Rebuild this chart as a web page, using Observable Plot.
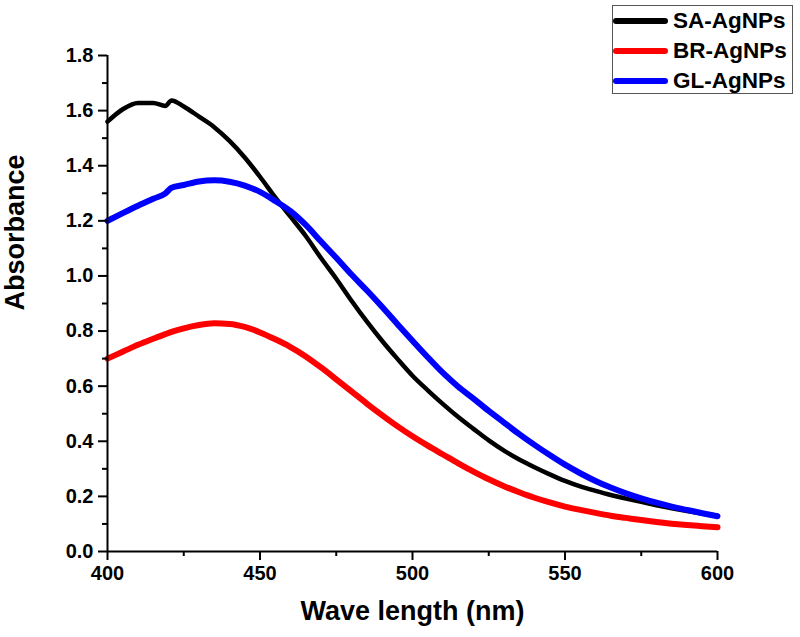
<!DOCTYPE html>
<html>
<head>
<meta charset="utf-8">
<script src="https://cdn.jsdelivr.net/npm/d3@7"></script>
<script src="https://cdn.jsdelivr.net/npm/@observablehq/plot@0.6"></script>
<style>
  html, body { margin: 0; padding: 0; background: #fff; }
  #wrap { position: relative; width: 800px; height: 637px; font-family: "Liberation Sans", Arial, sans-serif; }
  #legend { position: absolute; left: 612px; top: 5px; width: 181px; height: 89px; border: 1.5px solid #555; background: #fff; box-sizing: border-box; }
  .row { position: absolute; left: 0; height: 30px; display: flex; align-items: center; font-weight: bold; font-size: 22.5px; color: #000; }
  .sw { width: 55px; height: 6px; border-radius: 3px; margin-right: 5px; }
</style>
</head>
<body>
<div id="wrap"></div>
<script>
const wavelength = [400,405,410,415,419,421,425,430,435,440,445,450,455,460,465,470,475,480,485,490,495,500,505,510,515,520,525,530,535,540,545,550,555,560,565,570,575,580,585,590,595,600];
const saAbs = [1.56,1.605,1.628,1.628,1.617,1.637,1.615,1.578,1.54,1.49,1.43,1.36,1.285,1.215,1.145,1.065,0.99,0.91,0.835,0.765,0.70,0.638,0.585,0.535,0.488,0.445,0.403,0.366,0.334,0.306,0.28,0.256,0.236,0.22,0.205,0.192,0.18,0.168,0.157,0.147,0.138,0.13];
const brAbs = [0.70,0.725,0.75,0.772,0.789,0.797,0.81,0.822,0.828,0.826,0.815,0.795,0.77,0.742,0.708,0.668,0.625,0.581,0.537,0.495,0.455,0.418,0.384,0.352,0.32,0.29,0.262,0.237,0.215,0.195,0.178,0.163,0.151,0.14,0.13,0.122,0.114,0.107,0.101,0.096,0.092,0.088];
const glAbs = [1.20,1.228,1.255,1.28,1.30,1.32,1.33,1.343,1.347,1.342,1.328,1.305,1.272,1.235,1.185,1.125,1.066,1.005,0.948,0.888,0.826,0.765,0.705,0.648,0.598,0.555,0.51,0.468,0.426,0.387,0.35,0.315,0.284,0.256,0.232,0.211,0.193,0.177,0.163,0.151,0.139,0.128];

const seriesNames = ["SA-AgNPs", "BR-AgNPs", "GL-AgNPs"];
const seriesColors = ["#000000", "#ff0000", "#0000ff"];
const seriesWidths = [4.5, 6, 6];
const seriesValues = [saAbs, brAbs, glAbs];

const xMajor = [400, 450, 500, 550, 600];
const xMinor = [425, 475, 525, 575];
const yMajor = [0, 0.2, 0.4, 0.6, 0.8, 1.0, 1.2, 1.4, 1.6, 1.8];
const yMinor = [0.1, 0.3, 0.5, 0.7, 0.9, 1.1, 1.3, 1.5, 1.7];
const xTitle = "Wave length (nm)";
const yTitle = "Absorbance";

const lineMarks = seriesValues.map((vals, i) =>
  Plot.line(wavelength.map((w, j) => ({w, a: vals[j]})), {
    x: "w", y: "a", stroke: seriesColors[i], strokeWidth: seriesWidths[i],
    curve: "monotone-x", strokeLinejoin: "round", strokeLinecap: "round"
  })
);

const chart = Plot.plot({
  width: 800,
  height: 637,
  marginLeft: 107,
  marginRight: 83,
  marginTop: 55,
  marginBottom: 86,
  style: { fontFamily: "'Liberation Sans', Arial, sans-serif", fontWeight: "bold", fontSize: "20px", color: "#000", background: "#fff" },
  x: { domain: [400, 600] },
  y: { domain: [0, 1.8] },
  marks: [
    ...lineMarks,
    Plot.axisX(xMajor, { tickSize: 9, tickPadding: 5, strokeWidth: 2, label: null, fontSize: 20, fontWeight: "bold" }),
    Plot.axisX(xMinor, { tickSize: 5, tickFormat: () => "", strokeWidth: 2, label: null }),
    Plot.axisY(yMajor, { tickSize: 9, tickPadding: 5, strokeWidth: 2, label: null, tickFormat: d => d.toFixed(1), fontSize: 20, fontWeight: "bold" }),
    Plot.axisY(yMinor, { tickSize: 5, tickFormat: () => "", strokeWidth: 2, label: null }),
    Plot.ruleX([400], { stroke: "#000", strokeWidth: 2 }),
    Plot.ruleY([0], { stroke: "#000", strokeWidth: 2 }),
    Plot.text([xTitle], { frameAnchor: "bottom", dy: 68, fontSize: 27, fontWeight: "bold", fill: "#000" }),
    Plot.text([yTitle], { frameAnchor: "left", rotate: -90, dx: -92, dy: 7, fontSize: 27, fontWeight: "bold", fill: "#000" })
  ]
});

const wrap = document.getElementById("wrap");
wrap.appendChild(chart);

const legend = document.createElement("div");
legend.id = "legend";
seriesNames.forEach((name, i) => {
  const row = document.createElement("div");
  row.className = "row";
  row.style.top = (0 + i * 30) + "px";
  const sw = document.createElement("div");
  sw.className = "sw";
  sw.style.background = seriesColors[i];
  const label = document.createElement("span");
  label.textContent = name;
  row.appendChild(sw);
  row.appendChild(label);
  legend.appendChild(row);
});
wrap.appendChild(legend);
</script>
</body>
</html>
